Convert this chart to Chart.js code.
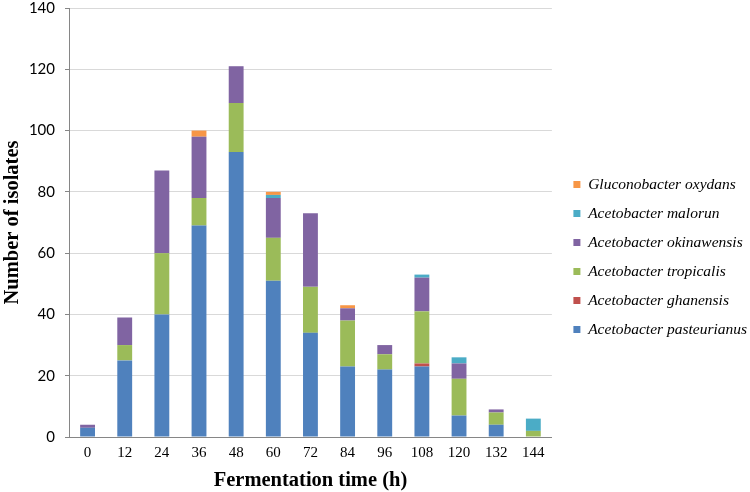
<!DOCTYPE html>
<html>
<head>
<meta charset="utf-8">
<script src="https://cdn.jsdelivr.net/npm/chart.js@4/dist/chart.umd.min.js"></script>
<style>
    html, body { margin: 0; padding: 0; background: #fff; }
    #wrap { width: 750px; height: 492px; }
</style>
</head>
<body>
<div id="wrap"><canvas id="isolatesChart"></canvas></div>
<script>
// Fermentationszeiten (h)
const times = ['0', '12', '24', '36', '48', '60', '72', '84', '96', '108', '120', '132', '144'];

// Anzahl Isolate pro Art (von unten nach oben gestapelt)
const pasteurianus = [3, 25, 40, 69, 93, 51, 34, 23, 22, 23, 7, 4, 0];
const ghanensis    = [0, 0, 0, 0, 0, 0, 0, 0, 0, 1, 0, 0, 0];
const tropicalis   = [0, 5, 20, 9, 16, 14, 15, 15, 5, 17, 12, 4, 2];
const okinawensis  = [1, 9, 27, 20, 12, 13, 24, 4, 3, 11, 5, 1, 0];
const malorun      = [0, 0, 0, 0, 0, 1, 0, 0, 0, 1, 2, 0, 4];
const oxydans      = [0, 0, 0, 2, 0, 1, 0, 1, 0, 0, 0, 0, 0];

const yTicks = [0, 20, 40, 60, 80, 100, 120, 140];

const chartCanvas = document.getElementById('isolatesChart');

function makeSet(label, values, color) {
    return {
        label: label,
        data: values,
        backgroundColor: color,
        borderWidth: 0,
        barPercentage: 0.4,
        categoryPercentage: 1.0
    };
}

new Chart(chartCanvas, {
    type: 'bar',
    data: {
        labels: times,
        datasets: [
            makeSet('Acetobacter pasteurianus', pasteurianus, '#4F81BD'),
            makeSet('Acetobacter ghanensis', ghanensis, '#C0504D'),
            makeSet('Acetobacter tropicalis', tropicalis, '#9BBB59'),
            makeSet('Acetobacter okinawensis', okinawensis, '#8064A2'),
            makeSet('Acetobacter malorun', malorun, '#4BACC6'),
            makeSet('Gluconobacter oxydans', oxydans, '#F79646')
        ]
    },
    options: {
        responsive: true,
        maintainAspectRatio: false,
        animation: false,
        layout: { padding: { top: 0, right: -7, bottom: 0, left: 2 } },
        plugins: {
            tooltip: { enabled: false },
            legend: {
                position: 'right',
                reverse: true, // Gluconobacter oben
                maxWidth: 210, // sonst wird die Legende auf 1/4 der Breite begrenzt
                title: {
                    display: true,
                    text: ' ', // nur Abstand, Legende etwas tiefer
                    font: { size: 10 },
                    padding: 5
                },
                labels: {
                    boxWidth: 7,
                    boxHeight: 7,
                    padding: 13.5,
                    color: '#000',
                    font: { family: 'Liberation Serif', style: 'italic', size: 15.5 }
                }
            }
        },
        scales: {
            x: {
                stacked: true,
                afterFit: s => { s.height = 55; },
                grid: { display: false, drawTicks: false },
                border: { color: '#868686', width: 1 },
                ticks: {
                    color: '#000',
                    padding: 7.5,
                    font: { family: 'Liberation Serif', size: 15 }
                },
                title: {
                    display: true,
                    text: 'Fermentation time (h)',
                    color: '#000',
                    padding: { top: 0, bottom: 0 },
                    font: { family: 'Liberation Serif', size: 20.5, weight: 'bold', lineHeight: 1.1 }
                }
            },
            y: {
                stacked: true,
                min: 0,
                max: 140,
                afterBuildTicks: axis => { axis.ticks = yTicks.map(v => ({ value: v })); },
                afterFit: s => {
                    s.width = 67;
                    s.paddingTop = 8;
                    s.paddingBottom = 0;
                },
                grid: { color: '#D9D9D9', tickColor: '#868686', tickLength: 4 },
                border: { color: '#868686', width: 1 },
                ticks: {
                    color: '#000',
                    padding: 10,
                    font: { family: 'Lato', size: 15 }
                },
                title: {
                    display: true,
                    text: 'Number of isolates',
                    color: '#000',
                    padding: { top: 0, bottom: 0 },
                    font: { family: 'Liberation Serif', size: 20.5, weight: 'bold', lineHeight: 1.0 }
                }
            },
            // leere Achse rechts = Abstand zwischen Diagramm und Legende
            gap: {
                type: 'linear',
                position: 'right',
                display: true,
                afterFit: s => { s.width = 8; },
                grid: { display: false },
                border: { display: false },
                ticks: { display: false }
            }
        }
    }
});
</script>
</body>
</html>
